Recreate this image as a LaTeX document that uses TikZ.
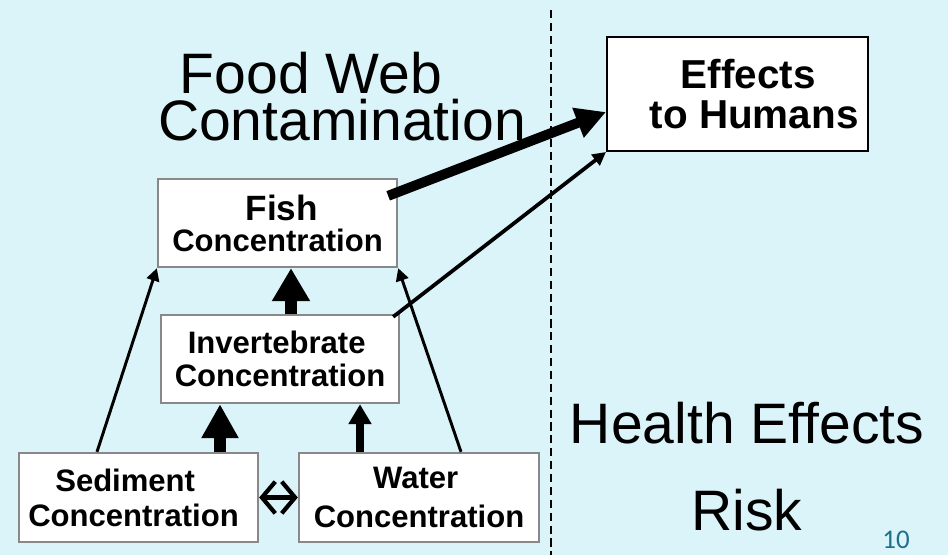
\documentclass[tikz,border=0pt]{standalone}
\usepackage{fontspec}
\setmainfont{Liberation Sans}
\newfontfamily\numfont{Carlito}
\usetikzlibrary{arrows.meta,calc}
\definecolor{slidebg}{RGB}{218,244,249}
\definecolor{boxgray}{RGB}{136,136,136}
\definecolor{pagenum}{RGB}{31,110,140}

\begin{document}
\begin{tikzpicture}[x=0.03cm,y=-0.03cm]
  \tikzstyle{conc}=[draw=boxgray,fill=white,line width=2pt,align=center,inner sep=0pt,
                    font=\bfseries\fontsize{26.5}{27.5}\selectfont]
  \tikzstyle{effect}=[draw=black,fill=white,line width=1.7pt,align=center,inner sep=0pt,
                      font=\bfseries\fontsize{34.5}{34}\selectfont]
  \tikzstyle{title}=[anchor=base,inner sep=0pt,font=\fontsize{48.7}{50}\selectfont]
  \tikzstyle{thin}=[line width=2.5pt,-{Triangle[length=0.38cm,width=0.38cm]}]
  \tikzstyle{fat}=[line width=8.5pt,-{Triangle[length=0.9cm,width=0.9cm]}]
  \useasboundingbox (0,0) rectangle (948,555);
  \fill[slidebg] (0,0) rectangle (948,555);
  % divider
  \coordinate (divtop) at (551,10);
  \coordinate (divbot) at (551,555);
  \draw[line width=2.3pt,dash pattern=on 7pt off 4pt] (divtop) -- (divbot);
  % titles
  \node[title] (foodweb) at (311,93) {Food Web};
  \node[title] (contam) at (342,140) {Contamination};
  \node[title] (health) at (747,443) {Health Effects};
  \node[title] (risk) at (747,530) {Risk};
  \node[anchor=base,inner sep=0pt,text=pagenum,font=\numfont\fontsize{23}{23}\selectfont] (pnum) at (896,548) {10};
  % boxes
  \node[conc,minimum width=7.17cm,minimum height=2.64cm] (fish) at (277.5,223)
       {\hspace*{0.25cm}{\fontsize{30}{27.5}\selectfont Fish}\\[-1pt]Concentration};
  \node[conc,minimum width=7.14cm,minimum height=2.64cm] (inv) at (280,359)
       {Invertebrate\hspace*{0.2cm}\\[1pt]Concentration};
  \node[conc,minimum width=7.17cm,minimum height=2.67cm] (sed) at (138.5,497.5)
       {Sediment\hspace*{0.8cm}\\[2.4pt]Concentration\hspace*{0.3cm}};
  \node[conc,minimum width=7.2cm,minimum height=2.67cm] (water) at (419,497.5)
       {Water\hspace*{0.2cm}\\[5.8pt]Concentration};
  \node[effect,minimum width=7.83cm,minimum height=3.42cm] (eff) at (737.5,94)
       {\hspace*{0.65cm}Effects\\[-0.5pt]\hspace*{1cm}to Humans};
  % arrows
  \draw[thin] ($(sed.north)+(-41.5,0)$) -- (fish.south west);
  \draw[thin] ($(water.north)+(42,0)$) -- (fish.south east);
  \draw[line width=9.4pt,-{Triangle[length=0.99cm,width=1.08cm]}] ($(inv.north)+(11,0)$) -- ($(fish.south)+(13.5,0)$);
  \draw[line width=10.2pt,-{Triangle[length=1.02cm,width=1.05cm]}] ($(sed.north)+(81.5,0)$) -- ($(inv.south)+(-60,0)$);
  \draw[line width=6.8pt,-{Triangle[length=0.6cm,width=0.66cm]}] ($(water.north)+(-59,0)$) -- ($(inv.south)+(80,0)$);
  \draw[line width=3.6pt,{Straight Barb[length=0.4cm,width=0.95cm]}-{Straight Barb[length=0.4cm,width=0.95cm]}]
       (sed.east) -- (water.west);
  \draw[fat] ($(fish.north east)+(-10,18)$) -- ($(eff.west)+(0,18)$);
  \draw[line width=3.2pt,-{Triangle[length=0.4cm,width=0.4cm]}] ($(inv.north east)+(-7,3)$) -- (eff.south west);
\end{tikzpicture}
\end{document}
